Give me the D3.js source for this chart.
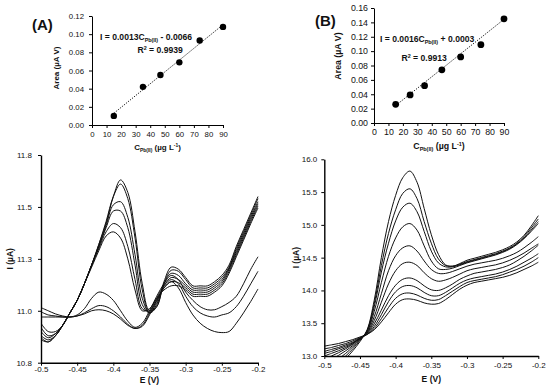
<!DOCTYPE html>
<html>
<head>
<meta charset="utf-8">
<script src="https://cdn.jsdelivr.net/npm/d3@7"></script>
<style>
body{margin:0;background:#fff;}
text{font-family:"Liberation Sans",Arial,sans-serif;fill:#111;}
.domain{stroke:#000;}
</style>
</head>
<body>
<script>
// calibration insets
var concA = [15, 35, 47, 60, 74, 90];
var areaA = [0.010, 0.042, 0.055, 0.069, 0.093, 0.108];
var fitA = [0.0013, -0.0066];
var concB = [15, 25, 35, 47, 60, 74, 90];
var areaB = [0.026, 0.039, 0.052, 0.074, 0.092, 0.109, 0.145];
var fitB = [0.0016, 0.0003];

// potential grid (V)
var eVals = [-0.50,-0.49,-0.48,-0.47,-0.46,-0.45,-0.44,-0.43,-0.42,-0.41,-0.40,-0.39,-0.38,-0.37,-0.36,-0.35,
	-0.34,-0.33,-0.32,-0.31,-0.30,-0.29,-0.28,-0.27,-0.26,-0.25,-0.24,-0.23,-0.22,-0.21,-0.20];

// panel A voltammograms (uA)
var swvA = [
	[10.92,10.90,10.93,10.98,11.04,11.10,11.18,11.27,11.37,11.47,11.60,11.68,11.62,11.43,11.18,11.05,11.07,11.19,11.26,11.25,11.21,11.17,11.17,11.17,11.19,11.22,11.27,11.36,11.44,11.52,11.60],
	[10.93,10.91,10.93,10.98,11.04,11.10,11.18,11.27,11.37,11.48,11.60,11.66,11.59,11.40,11.15,11.04,11.07,11.18,11.245,11.24,11.20,11.16,11.16,11.16,11.18,11.21,11.26,11.35,11.43,11.51,11.59],
	[10.95,10.92,10.94,10.98,11.04,11.10,11.18,11.27,11.36,11.46,11.56,11.575,11.50,11.32,11.11,11.04,11.08,11.18,11.23,11.22,11.18,11.15,11.15,11.15,11.17,11.20,11.255,11.34,11.42,11.50,11.575],
	[10.97,10.93,10.94,10.98,11.04,11.10,11.18,11.27,11.36,11.45,11.53,11.53,11.45,11.27,11.08,11.04,11.09,11.17,11.21,11.20,11.17,11.14,11.14,11.14,11.16,11.19,11.25,11.33,11.41,11.49,11.565],
	[10.99,10.95,10.95,10.98,11.04,11.10,11.18,11.27,11.35,11.43,11.47,11.45,11.36,11.20,11.06,11.05,11.10,11.16,11.19,11.185,11.16,11.13,11.13,11.13,11.15,11.18,11.24,11.32,11.40,11.48,11.555],
	[10.91,10.90,10.93,10.98,11.04,11.10,11.18,11.26,11.34,11.41,11.43,11.40,11.30,11.15,11.05,11.06,11.11,11.15,11.17,11.17,11.15,11.12,11.12,11.12,11.14,11.17,11.23,11.31,11.39,11.47,11.545],
	[11.02,11.02,11.02,11.02,11.02,11.03,11.06,11.11,11.14,11.13,11.10,11.05,11.00,10.97,10.99,11.05,11.12,11.18,11.22,11.20,11.14,11.10,11.07,11.055,11.055,11.07,11.09,11.12,11.18,11.25,11.31],
	[11.065,11.05,11.035,11.025,11.02,11.025,11.04,11.06,11.075,11.07,11.05,11.02,10.985,10.965,10.98,11.04,11.11,11.17,11.20,11.18,11.12,11.07,11.04,11.025,11.02,11.03,11.04,11.07,11.12,11.18,11.24],
	[11.045,11.03,11.025,11.02,11.02,11.025,11.035,11.05,11.055,11.05,11.035,11.01,10.98,10.965,10.975,11.03,11.10,11.16,11.19,11.16,11.09,11.03,10.99,10.965,10.95,10.945,10.95,10.99,11.04,11.095,11.155]
];
var yTicksA = [10.8, 11.05, 11.3, 11.55, 11.8];
var yLabelsA = ['10.8', '11.0', '11.3', '11.5', '11.8'];

// panel B voltammograms (uA)
var swvB = [
	[12.72,12.78,12.86,12.96,13.08,13.22,13.40,13.85,14.50,15.05,15.45,15.72,15.82,15.65,15.25,14.85,14.55,14.39,14.37,14.41,14.46,14.49,14.52,14.55,14.58,14.62,14.67,14.74,14.84,14.98,15.14],
	[12.78,12.84,12.91,13.00,13.11,13.24,13.39,13.80,14.38,14.87,15.23,15.48,15.55,15.40,15.05,14.72,14.48,14.38,14.37,14.40,14.44,14.47,14.50,14.53,14.56,14.60,14.65,14.72,14.82,14.95,15.09],
	[12.84,12.90,12.96,13.04,13.14,13.25,13.38,13.75,14.28,14.72,15.06,15.27,15.33,15.20,14.90,14.60,14.42,14.36,14.36,14.39,14.43,14.46,14.49,14.52,14.55,14.59,14.64,14.71,14.80,14.92,15.05],
	[12.90,12.95,13.01,13.08,13.16,13.26,13.37,13.68,14.12,14.52,14.80,14.97,15.02,14.92,14.68,14.45,14.33,14.32,14.34,14.38,14.42,14.45,14.48,14.51,14.54,14.58,14.63,14.70,14.79,14.90,15.02],
	[12.96,13.00,13.05,13.11,13.18,13.27,13.36,13.60,13.95,14.30,14.53,14.65,14.68,14.60,14.45,14.32,14.26,14.26,14.29,14.33,14.37,14.40,14.42,14.44,14.46,14.49,14.53,14.58,14.65,14.73,14.82],
	[13.00,13.04,13.08,13.13,13.19,13.27,13.35,13.54,13.82,14.10,14.30,14.41,14.43,14.38,14.27,14.18,14.14,14.16,14.20,14.25,14.30,14.33,14.35,14.37,14.39,14.42,14.46,14.51,14.57,14.64,14.71],
	[13.04,13.07,13.11,13.15,13.20,13.27,13.34,13.49,13.70,13.92,14.08,14.17,14.19,14.15,14.07,14.01,14.00,14.04,14.10,14.17,14.22,14.26,14.28,14.30,14.32,14.35,14.39,14.45,14.52,14.60,14.69],
	[13.07,13.10,13.13,13.17,13.21,13.27,13.33,13.45,13.63,13.83,13.98,14.06,14.075,14.04,13.97,13.92,13.92,13.97,14.04,14.11,14.16,14.19,14.21,14.23,14.25,14.28,14.32,14.37,14.43,14.49,14.56],
	[13.11,13.13,13.16,13.19,13.23,13.28,13.33,13.42,13.57,13.74,13.88,13.95,13.96,13.93,13.88,13.85,13.86,13.92,13.99,14.06,14.12,14.15,14.17,14.19,14.21,14.24,14.28,14.32,14.37,14.43,14.50],
	[13.15,13.17,13.19,13.22,13.25,13.29,13.33,13.40,13.52,13.66,13.79,13.86,13.87,13.85,13.81,13.79,13.80,13.86,13.94,14.02,14.08,14.12,14.14,14.16,14.18,14.20,14.23,14.27,14.32,14.37,14.43]
];
var yTicksB = [13.0, 13.5, 14.0, 14.5, 15.0, 15.5, 16.0];
var xTicksMain = [-0.5, -0.45, -0.4, -0.35, -0.3, -0.25, -0.2];

var svg = d3.select('body').append('svg')
.attr('width', 550)
.attr('height', 391);

var defs = svg.append('defs');

function cLabel(t, size){
	t.append('tspan').text('C');
	t.append('tspan').text('Pb(II)').style('font-size', (size*0.62)+'px').attr('dy', 2);
	t.append('tspan').text(' (µg L').attr('dy', -2);
	t.append('tspan').text('-1').style('font-size', (size*0.62)+'px').attr('dy', -3);
	t.append('tspan').text(')').attr('dy', 3);
}

// ---------- main voltammogram panels ----------
function mainPanel(o){
	var x = d3.scaleLinear().domain([-0.5, -0.2]).range([o.x0, o.x1]);
	var y = d3.scaleLinear().domain(o.yDom).range([o.y0, o.y1]);
	var g = svg.append('g');

	defs.append('clipPath').attr('id', o.id)
	.append('rect')
	.attr('x', o.x0).attr('y', o.y1)
	.attr('width', o.x1 - o.x0 + 2).attr('height', o.y0 - o.y1);

	var line = d3.line()
	.x((d,i)=>x(eVals[i]))
	.y(d=>y(d))
	.curve(d3.curveCatmullRom);

	g.append('g')
	.attr('clip-path', 'url(#'+o.id+')')
	.selectAll('path')
	.data(o.data)
	.enter()
	.append('path')
	.attr('d', line)
	.attr('fill', 'none')
	.attr('stroke', '#111')
	.attr('stroke-width', 1);

	g.append('g')
	.attr('transform', 'translate('+o.x0+',0)')
	.call(d3.axisLeft(y).tickValues(o.yTicks).tickFormat(o.yFmt).tickSize(3).tickSizeOuter(0).tickPadding(o.yPad));

	g.append('g')
	.attr('transform', 'translate(0,'+o.y0+')')
	.call(d3.axisBottom(x).tickValues(xTicksMain).tickFormat(d=>String(+d.toFixed(2))).tickSize(3).tickSizeOuter(0).tickPadding(o.xPad));

	g.selectAll('.domain').attr('stroke-width', 1.4);
	g.selectAll('.tick line').attr('stroke', '#000');
	g.selectAll('.tick text').style('font-size', '8px').attr('fill', '#111');

	g.append('text')
	.text('E (V)')
	.attr('x', (o.x0 + o.x1)/2)
	.attr('y', o.xTitleY)
	.attr('text-anchor', 'middle')
	.style('font-size', '8.5px')
	.style('font-weight', 'bold');

	g.append('text')
	.text('I (µA)')
	.attr('transform', 'translate('+o.yTitleX+','+(o.y0 + o.y1)/2+') rotate(-90)')
	.attr('text-anchor', 'middle')
	.style('font-size', '8.5px')
	.style('font-weight', 'bold');
}

mainPanel({id:'clipA', x0:41, x1:258, y0:362.7, y1:155, yDom:[10.8, 11.8],
	yTicks:yTicksA, yFmt:(d,i)=>yLabelsA[i], yPad:6, xPad:1,
	data:swvA, xTitleY:383, yTitleX:13});

mainPanel({id:'clipB', x0:324.3, x1:538.3, y0:356, y1:159.3, yDom:[13, 16],
	yTicks:yTicksB, yFmt:d3.format('.1f'), yPad:4, xPad:3,
	data:swvB, xTitleY:382, yTitleX:299});

// ---------- calibration insets ----------
function inset(o){
	var x = d3.scaleLinear().domain([0, 90]).range([o.x0, o.x1]);
	var y = d3.scaleLinear().domain([0, o.yMax]).range([o.y0, o.y1]);
	var g = svg.append('g');

	g.append('g')
	.attr('transform', 'translate('+o.x0+',0)')
	.call(d3.axisLeft(y).ticks(o.yMax/0.02).tickFormat(d3.format('.2f')).tickSize(3).tickSizeOuter(0).tickPadding(o.yPad));

	g.append('g')
	.attr('transform', 'translate(0,'+o.y0+')')
	.call(d3.axisBottom(x).ticks(9).tickSize(3).tickSizeOuter(0).tickPadding(3));

	g.selectAll('.domain').attr('stroke-width', 1);
	g.selectAll('.tick text').style('font-size', o.fs+'px').attr('fill', '#111');

	var x1 = o.conc[0], x2 = o.conc[o.conc.length-1];
	g.append('line')
	.attr('x1', x(x1)).attr('y1', y(o.fit[0]*x1 + o.fit[1]))
	.attr('x2', x(x2)).attr('y2', y(o.fit[0]*x2 + o.fit[1]))
	.attr('stroke', '#222')
	.attr('stroke-width', 1)
	.attr('stroke-dasharray', '1.3,1.3');

	g.selectAll('circle')
	.data(o.area)
	.enter()
	.append('circle')
	.attr('cx', (d,i)=>x(o.conc[i]))
	.attr('cy', d=>y(d))
	.attr('r', o.r)
	.attr('fill', '#000');

	g.append('text')
	.text('Area (µA V)')
	.attr('transform', 'translate('+o.yTitleX+','+o.yTitleY+') rotate(-90)')
	.attr('text-anchor', 'middle')
	.style('font-size', o.ts+'px')
	.style('font-weight', 'bold');

	var xt = g.append('text')
	.attr('x', o.xTitleX)
	.attr('y', o.xTitleY)
	.attr('text-anchor', 'middle')
	.style('font-size', o.ts+'px')
	.style('font-weight', 'bold');
	cLabel(xt, o.ts);

	g.append('text')
	.text(o.tag)
	.attr('x', o.tagX).attr('y', o.tagY)
	.style('font-size', '15px')
	.style('font-weight', 'bold');

	var eq = g.append('text')
	.attr('x', o.eqX).attr('y', o.eqY)
	.style('font-size', '8.6px')
	.style('font-weight', 'bold');
	eq.append('tspan').text('I = ' + o.fit[0].toFixed(4) + 'C');
	eq.append('tspan').text('Pb(II)').style('font-size', '5.4px').attr('dy', 2);
	eq.append('tspan').text((o.fit[1] < 0 ? ' - ' : ' + ') + Math.abs(o.fit[1]).toFixed(4)).attr('dy', -2);

	var r2 = g.append('text')
	.attr('x', o.r2X).attr('y', o.r2Y)
	.style('font-size', '8.6px')
	.style('font-weight', 'bold');
	r2.append('tspan').text('R');
	r2.append('tspan').text('2').style('font-size', '5.4px').attr('dy', -3);
	r2.append('tspan').text(' = ' + o.r2).attr('dy', 3);
}

inset({x0:92, x1:223, y0:125, y1:16, yMax:0.12, conc:concA, area:areaA, fit:fitA, r2:'0.9939',
	yPad:5, fs:7.8, ts:8, r:3.2, yTitleX:59, yTitleY:68, xTitleX:157.5, xTitleY:149.5,
	tag:'(A)', tagX:32, tagY:30, eqX:100, eqY:39.5, r2X:137.5, r2Y:52.5});

inset({x0:374, x1:504, y0:123, y1:8, yMax:0.16, conc:concB, area:areaB, fit:fitB, r2:'0.9913',
	yPad:3, fs:8.8, ts:8.8, r:3.4, yTitleX:341, yTitleY:56, xTitleX:439, xTitleY:148.5,
	tag:'(B)', tagX:315, tagY:26, eqX:380, eqY:42, r2X:401.5, r2Y:61});
</script>
</body>
</html>
